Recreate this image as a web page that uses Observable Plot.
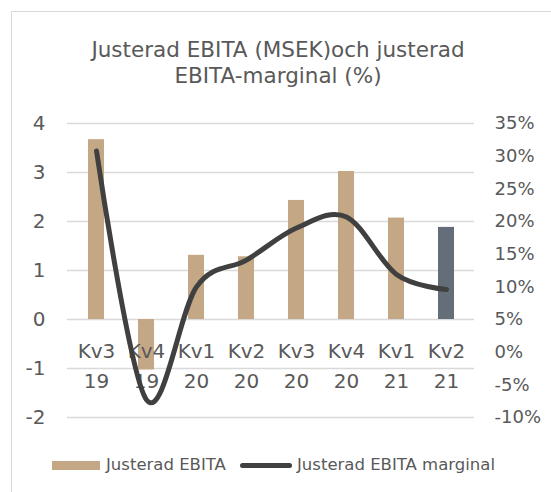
<!DOCTYPE html>
<html><head><meta charset="utf-8">
<script src="https://cdn.jsdelivr.net/npm/d3@7"></script>
<script src="https://cdn.jsdelivr.net/npm/@observablehq/plot@0.6"></script>
<style>
html,body{margin:0;padding:0;background:#fff;overflow:hidden;width:551px;height:492px;}
body{font-family:"DejaVu Sans",sans-serif;color:#595959;position:relative;}
#frame{position:absolute;left:11px;top:11px;width:620px;height:600px;border:1px solid #d9d9d9;box-sizing:border-box;}
#title{position:absolute;left:11px;width:534px;top:37px;text-align:center;font-size:21.5px;line-height:26px;}
#chart{position:absolute;left:0;top:100px;}
#legend{position:absolute;left:0;top:453px;width:551px;height:24px;font-size:16.5px;}
.sw-bar{position:absolute;left:52px;top:8px;width:48px;height:9px;background:#c4a886;}
.sw-line{position:absolute;left:240px;top:10px;width:52px;height:5px;border-radius:3px;background:#404040;}
.lt{position:absolute;top:1px;line-height:22px;white-space:nowrap;}
</style></head>
<body>
<div id="frame"></div>
<div id="title">Justerad EBITA (MSEK)och justerad<br>EBITA-marginal (%)</div>
<div id="chart"></div>
<div id="legend">
  <span class="sw-bar"></span><span class="lt" style="left:106px">Justerad EBITA</span>
  <span class="sw-line"></span><span class="lt" style="left:297px">Justerad EBITA marginal</span>
</div>
<script>
const categories = ["Kv3 19","Kv4 19","Kv1 20","Kv2 20","Kv3 20","Kv4 20","Kv1 21","Kv2 21"];
const categoryLabels = ["Kv3\n19","Kv4\n19","Kv1\n20","Kv2\n20","Kv3\n20","Kv4\n20","Kv1\n21","Kv2\n21"];
const ebita = [3.67, -1.03, 1.31, 1.28, 2.43, 3.02, 2.07, 1.88];
const marginPct = [30.8, -7.3, 10.0, 14.1, 19.0, 20.7, 11.9, 9.6];
const leftTicks = [-2, -1, 0, 1, 2, 3, 4];
const rightTickLabels = ["-10%","-5%","0%","5%","10%","15%","20%","25%","30%","35%"];
const rightTickValues = [-10, -5, 0, 5, 10, 15, 20, 25, 30, 35];
const highlighted = "Kv2 21";

const tan = "#c4a886", slate = "#646e79", lineColor = "#404040", grid = "#d9d9d9";
// right axis: 35% <-> 4, -10% <-> -2  (5% at 0)
const pctToLeft = p => (p - 5) / 7.5;
const rightPositions = rightTickValues.map(pctToLeft);

const rows = categories.map((c, i) => ({cat: c, label: categoryLabels[i], ebita: ebita[i], margin: marginPct[i]}));

const chart = Plot.plot({
  width: 551, height: 347,
  marginLeft: 67, marginRight: 77, marginTop: 23, marginBottom: 30,
  style: {fontFamily: "DejaVu Sans, sans-serif", fontSize: "20px", color: "#595959", background: "transparent", overflow: "visible"},
  x: {domain: categories, paddingInner: 0.685, paddingOuter: 0.3425, axis: null},
  y: {domain: [-2, 4], axis: null},
  marks: [
    Plot.ruleY(leftTicks, {stroke: grid, strokeWidth: 1.5}),
    Plot.barY(rows, {x: "cat", y: "ebita", fill: d => d.cat === highlighted ? slate : tan}),
    Plot.text(rows, {x: "cat", y: 0, text: "label", lineAnchor: "top", dy: 17, lineHeight: 1.5, fontSize: 20, fill: "#595959"}),
    Plot.line(rows, {x: "cat", y: d => pctToLeft(d.margin), curve: "cardinal", stroke: lineColor, strokeWidth: 5, strokeLinecap: "round", strokeLinejoin: "round"}),
    Plot.axisY(leftTicks, {anchor: "left", label: null, tickSize: 0, tickPadding: 22, fontSize: 20, tickFormat: d => String(d)}),
    Plot.axisY(rightPositions, {anchor: "right", label: null, tickSize: 0, tickPadding: 20, fontSize: 18, tickFormat: d => rightTickLabels[rightPositions.indexOf(d)]})
  ]
});
document.getElementById("chart").appendChild(chart);
</script>
</body></html>
